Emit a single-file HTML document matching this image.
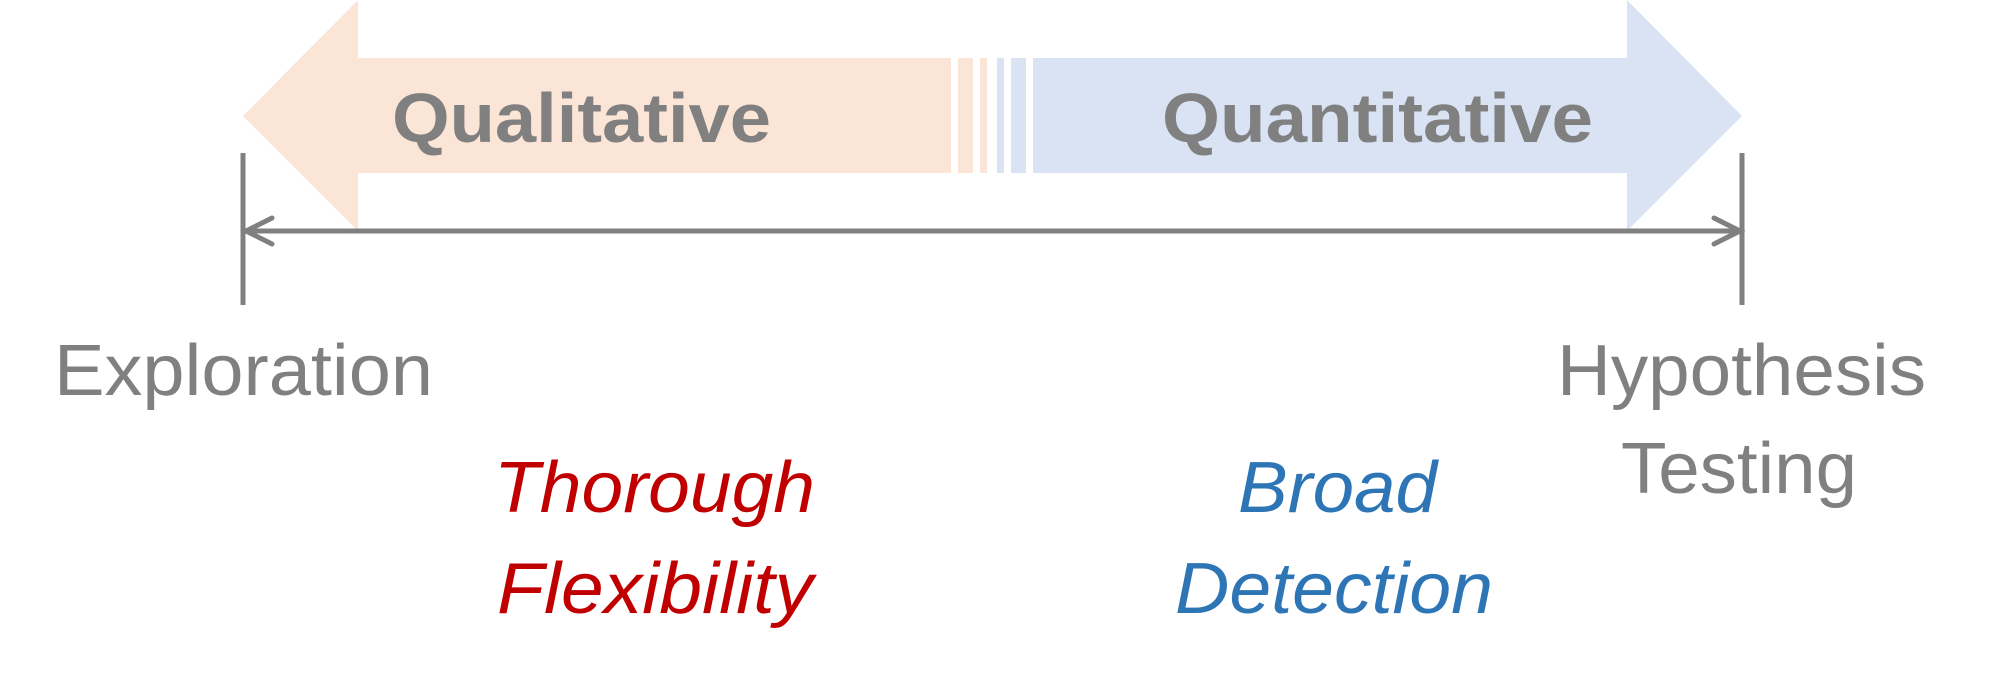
<!DOCTYPE html>
<html><head><meta charset="utf-8"><style>html,body{margin:0;padding:0;background:#fff}svg{display:block}</style></head>
<body>
<svg width="1998" height="685" viewBox="0 0 1998 685" xmlns="http://www.w3.org/2000/svg">
<polygon points="243,116 358,0 358,58 951,58 951,173 358,173 358,231" fill="#FBE5D6"/>
<rect x="958" y="58" width="15" height="115" fill="#FBE5D6"/>
<rect x="980" y="58" width="7" height="115" fill="#FBE5D6"/>
<rect x="997" y="58" width="7" height="115" fill="#DAE3F3"/>
<rect x="1011" y="58" width="15" height="115" fill="#DAE3F3"/>
<polygon points="1033,58 1627,58 1627,0 1742,116 1627,231 1627,173 1033,173" fill="#DAE3F3"/>
<g stroke="#808080" stroke-width="5" fill="none" stroke-linecap="round">
<line x1="243" y1="153" x2="243" y2="305" stroke-linecap="butt"/>
<line x1="1742" y1="153" x2="1742" y2="305" stroke-linecap="butt"/>
<line x1="245" y1="231" x2="1740" y2="231"/>
<polyline points="272,218 246,231 272,244"/>
<polyline points="1714,218 1740,231 1714,244"/>
</g>
<g font-family="Liberation Sans, sans-serif">
<text x="392" y="142" font-size="70" font-weight="bold" fill="#808080" textLength="379" lengthAdjust="spacingAndGlyphs">Qualitative</text>
<text x="1162" y="142" font-size="70" font-weight="bold" fill="#808080" textLength="431" lengthAdjust="spacingAndGlyphs">Quantitative</text>
<text x="54" y="395" font-size="72" fill="#808080" textLength="379" lengthAdjust="spacingAndGlyphs">Exploration</text>
<text x="1557" y="395" font-size="72" fill="#808080" textLength="369" lengthAdjust="spacingAndGlyphs">Hypothesis</text>
<text x="1621" y="493" font-size="72" fill="#808080" textLength="236" lengthAdjust="spacingAndGlyphs">Testing</text>
<text x="494" y="512" font-size="72" font-style="italic" fill="#C00000" textLength="321" lengthAdjust="spacingAndGlyphs">Thorough</text>
<text x="497" y="613" font-size="72" font-style="italic" fill="#C00000" textLength="316" lengthAdjust="spacingAndGlyphs">Flexibility</text>
<text x="1238" y="512" font-size="72" font-style="italic" fill="#2E75B6" textLength="199" lengthAdjust="spacingAndGlyphs">Broad</text>
<text x="1175" y="613" font-size="72" font-style="italic" fill="#2E75B6" textLength="318" lengthAdjust="spacingAndGlyphs">Detection</text>
</g>
</svg>
</body></html>
